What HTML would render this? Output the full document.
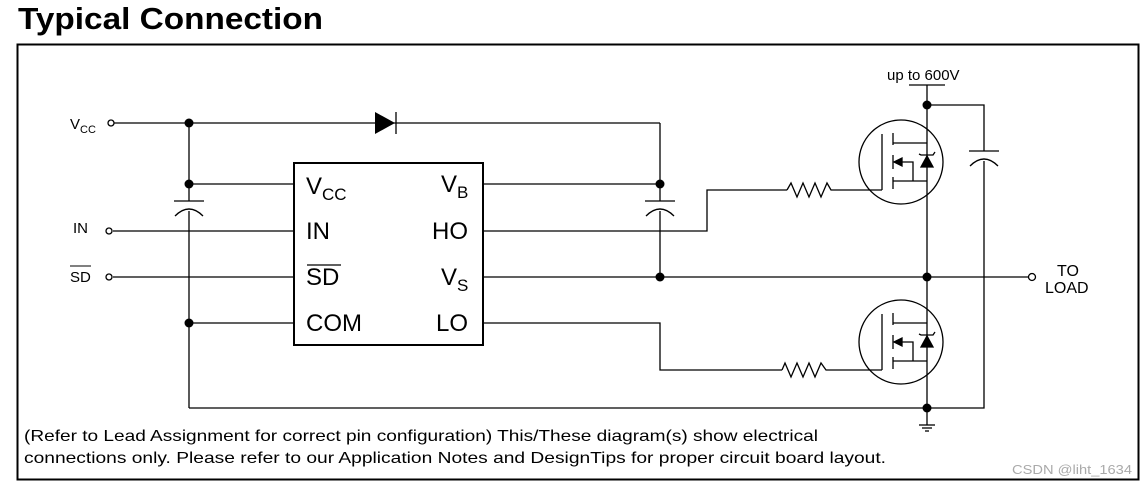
<!DOCTYPE html>
<html><head><meta charset="utf-8"><style>
html,body{margin:0;padding:0;background:#fff;}
svg{display:block;font-family:"Liberation Sans",Arial,sans-serif;}
</style></head><body>
<svg width="1147" height="485" viewBox="0 0 1147 485" xmlns="http://www.w3.org/2000/svg">
<text x="18" y="29" font-size="31" font-weight="bold" textLength="305" lengthAdjust="spacingAndGlyphs">Typical  Connection</text>
<rect x="17.5" y="44.5" width="1121" height="435" fill="none" stroke="#000" stroke-width="2"/>
<g stroke="#000" stroke-width="1.3" fill="none">
<line x1="114" y1="123" x2="660" y2="123"/>
<line x1="660" y1="123" x2="660" y2="201"/>
<line x1="660" y1="211" x2="660" y2="277"/>
<line x1="189" y1="123" x2="189" y2="201"/>
<line x1="189" y1="211" x2="189" y2="408"/>
<line x1="174" y1="201" x2="204" y2="201"/>
<path d="M175 216 Q189 202 203 216"/>
<line x1="645" y1="201" x2="675" y2="201"/>
<path d="M646 216 Q660 202 674 216"/>
<line x1="189" y1="184" x2="294" y2="184"/>
<line x1="113" y1="231" x2="294" y2="231"/>
<line x1="113" y1="277" x2="294" y2="277"/>
<line x1="189" y1="323" x2="294" y2="323"/>
<line x1="483" y1="184" x2="660" y2="184"/>
<polyline points="483,231 707,231 707,190 787,190"/>
<polyline points="787,190 791,183 797,197 803,183 809,197 815,183 821,197 827,183 831,190 882,190"/>
<line x1="483" y1="277" x2="1029" y2="277"/>
<polyline points="483,323 660,323 660,370 782,370"/>
<polyline points="782,370 785,363 791,377 797,363 803,377 809,363 815,377 821,363 826,370 882,370"/>
<polyline points="189,408 984,408 984,161"/>
<polyline points="984,151 984,105 927,105"/>
<line x1="969" y1="151" x2="999" y2="151"/>
<path d="M970 166 Q984 152 998 166"/>
<line x1="927" y1="85" x2="927" y2="425"/>
<line x1="909" y1="85" x2="945" y2="85"/>
<line x1="919" y1="425" x2="935" y2="425"/>
<line x1="922" y1="428" x2="932" y2="428"/>
<line x1="925" y1="431" x2="929" y2="431"/>
<rect x="294" y="163" width="189" height="182" stroke-width="2"/>
<circle cx="111" cy="123" r="3" fill="#fff"/>
<circle cx="109" cy="231" r="3" fill="#fff"/>
<circle cx="109" cy="277" r="3" fill="#fff"/>
<circle cx="1032" cy="277" r="3.5" fill="#fff"/>
</g>
<g id="m1" stroke="#000" stroke-width="1.3" fill="none">
<circle cx="901" cy="162" r="42"/>
<line x1="882" y1="134" x2="882" y2="190"/>
<line x1="893" y1="133" x2="893" y2="145"/>
<line x1="893" y1="155" x2="893" y2="169"/>
<line x1="893" y1="177" x2="893" y2="189"/>
<line x1="893" y1="143" x2="927" y2="143"/>
<line x1="893" y1="181" x2="927" y2="181"/>
<polyline points="900,162 913,162 913,181"/>
<polygon points="894,162 902,158 902,166" fill="#000"/>
<polygon points="921,167 933,167 927,156" fill="#000"/>
<polyline points="919,154 921,155 933,155 935,152"/>
</g>
<use href="#m1" transform="translate(0,180)"/>
<polygon points="375,112 375,134 395,123" fill="#000"/>
<line x1="396" y1="112" x2="396" y2="134" stroke="#000" stroke-width="1.3"/>
<g fill="#000">
<circle cx="189" cy="123" r="4.5"/><circle cx="189" cy="184" r="4.5"/><circle cx="189" cy="323" r="4.5"/>
<circle cx="660" cy="184" r="4.5"/><circle cx="660" cy="277" r="4.5"/>
<circle cx="927" cy="105" r="4.5"/><circle cx="927" cy="277" r="4.5"/><circle cx="927" cy="408" r="4.5"/>
</g>
<g font-size="15">
<text x="70" y="129">V<tspan font-size="11" dy="4">CC</tspan></text>
<text x="73" y="233">IN</text>
<text x="70" y="282">SD</text>
<line x1="70" y1="266" x2="91" y2="266" stroke="#000" stroke-width="1"/>
<text x="887" y="80">up to 600V</text>
<text x="1057" y="276" font-size="16">TO</text>
<text x="1045" y="293" font-size="16">LOAD</text>
</g>
<g font-size="24">
<text x="306" y="194">V<tspan font-size="17" dy="6">CC</tspan></text>
<text x="306" y="239">IN</text>
<text x="306" y="285">SD</text>
<line x1="307" y1="265" x2="341" y2="265" stroke="#000" stroke-width="1.3"/>
<text x="306" y="331">COM</text>
<text x="441" y="192">V<tspan font-size="17" dy="6">B</tspan></text>
<text x="432" y="239">HO</text>
<text x="441" y="285">V<tspan font-size="17" dy="6">S</tspan></text>
<text x="436" y="331">LO</text>
</g>
<g font-size="16">
<text x="24" y="441" textLength="794" lengthAdjust="spacingAndGlyphs">(Refer to Lead Assignment for correct pin configuration) This/These diagram(s) show electrical</text>
<text x="24" y="463" textLength="862" lengthAdjust="spacingAndGlyphs">connections only.  Please refer to our Application Notes and DesignTips for proper circuit board layout.</text>
</g>
<text x="1012" y="474" font-size="13" fill="#aaa" textLength="120" lengthAdjust="spacingAndGlyphs">CSDN @liht_1634</text>
</svg>
</body></html>
